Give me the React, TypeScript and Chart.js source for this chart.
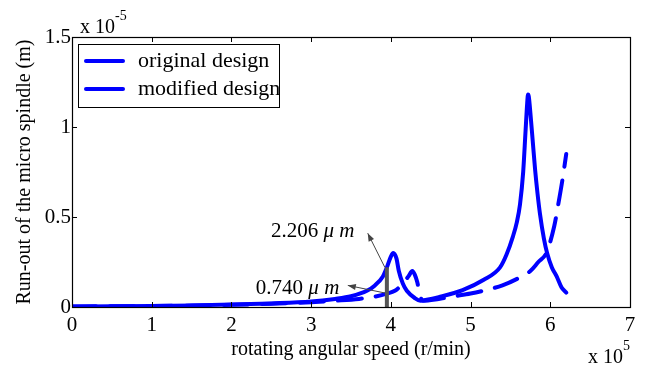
import React, { useEffect, useRef } from "react";
import { Chart, registerables } from "chart.js";
Chart.register(...registerables);

// rotating angular speed (x 10^5 r/min) and run-out (x 10^-5 m)
const xOriginal = [0, 0.5, 1.0, 1.5, 2.0, 2.5, 3.0, 3.3, 3.5, 3.7, 3.8, 3.9, 3.95, 4.0, 4.03, 4.07, 4.1, 4.15, 4.2, 4.3, 4.37, 4.45, 4.6, 4.9, 5.16, 5.37, 5.45, 5.53, 5.58, 5.62, 5.66, 5.69, 5.71, 5.72, 5.73, 5.75, 5.78, 5.81, 5.84, 5.87, 5.92, 5.96, 6.02, 6.08, 6.14, 6.2];
const yOriginal = [0.003, 0.004, 0.006, 0.009, 0.014, 0.02, 0.03, 0.045, 0.06, 0.09, 0.12, 0.17, 0.22, 0.28, 0.3, 0.27, 0.2, 0.13, 0.09, 0.05, 0.035, 0.04, 0.055, 0.094, 0.15, 0.22, 0.29, 0.39, 0.47, 0.57, 0.75, 0.98, 1.13, 1.18, 1.17, 1.08, 0.92, 0.76, 0.63, 0.52, 0.38, 0.3, 0.22, 0.17, 0.11, 0.08];
const xModified = [0, 0.5, 1.0, 1.5, 2.0, 2.5, 3.0, 3.3, 3.6, 3.8, 3.95, 4.05, 4.15, 4.22, 4.27, 4.3, 4.33, 4.37, 4.4, 4.6, 4.8, 5.0, 5.2, 5.4, 5.6, 5.75, 5.85, 5.95, 6.05, 6.1, 6.15, 6.2];
const yModified = [0.003, 0.004, 0.005, 0.008, 0.012, 0.018, 0.027, 0.035, 0.045, 0.058, 0.074, 0.09, 0.13, 0.17, 0.2, 0.18, 0.14, 0.06, 0.035, 0.045, 0.06, 0.075, 0.095, 0.12, 0.16, 0.2, 0.25, 0.3, 0.45, 0.57, 0.7, 0.85];
const seriesLabels = ["original design", "modified design"];
const xTickValues = [0, 1, 2, 3, 4, 5, 6, 7];
const yTickValues = [0, 0.5, 1, 1.5];
const markerSpeed = 3.95;
const markerValues = [2.206, 0.74]; // µm

const SERIF = "'Liberation Serif', 'DejaVu Serif', serif";

const overlay = {
  id: "overlay",
  afterDatasetsDraw(chart: any) {
    const { ctx, chartArea: a, scales } = chart;
    const x = scales.x;
    const y = scales.y;
    ctx.save();

    // marker bar
    const bx = x.getPixelForValue(markerSpeed);
    ctx.strokeStyle = "#555";
    ctx.lineWidth = 4;
    ctx.beginPath();
    ctx.moveTo(bx, y.getPixelForValue(0));
    ctx.lineTo(bx, y.getPixelForValue(markerValues[0] / 10));
    ctx.stroke();

    // arrows
    const arrow = (x0: number, y0: number, x1: number, y1: number) => {
      ctx.strokeStyle = "#444";
      ctx.fillStyle = "#444";
      ctx.lineWidth = 1;
      ctx.beginPath();
      ctx.moveTo(x0, y0);
      ctx.lineTo(x1, y1);
      ctx.stroke();
      const ang = Math.atan2(y1 - y0, x1 - x0);
      const L = 8, W = 3;
      ctx.beginPath();
      ctx.moveTo(x1, y1);
      ctx.lineTo(x1 - L * Math.cos(ang) + W * Math.sin(ang), y1 - L * Math.sin(ang) - W * Math.cos(ang));
      ctx.lineTo(x1 - L * Math.cos(ang) - W * Math.sin(ang), y1 - L * Math.sin(ang) + W * Math.cos(ang));
      ctx.closePath();
      ctx.fill();
    };
    arrow(bx - 2, y.getPixelForValue(0.22), x.getPixelForValue(3.71), y.getPixelForValue(0.41));
    arrow(bx - 2, y.getPixelForValue(0.078), x.getPixelForValue(3.46), y.getPixelForValue(0.12));

    // annotation texts
    const label = (v: number, cx: number, cy: number) => {
      const p1 = v.toFixed(3) + " ";
      ctx.font = `21px ${SERIF}`;
      const w1 = ctx.measureText(p1).width;
      ctx.font = `italic 21px ${SERIF}`;
      const p2 = "\u03bc m";
      const w2 = ctx.measureText(p2).width;
      const sx = x.getPixelForValue(cx) - (w1 + w2) / 2;
      const sy = y.getPixelForValue(cy);
      ctx.fillStyle = "#000";
      ctx.textBaseline = "middle";
      ctx.textAlign = "left";
      ctx.font = `21px ${SERIF}`;
      ctx.fillText(p1, sx, sy);
      ctx.font = `italic 21px ${SERIF}`;
      ctx.fillText(p2, sx + w1, sy);
    };
    label(markerValues[0], 3.02, 0.42);
    label(markerValues[1], 2.83, 0.105);

    // axes box
    ctx.strokeStyle = "#000";
    ctx.lineWidth = 1.2;
    ctx.strokeRect(a.left + 0.5, a.top + 0.5, a.right - a.left, a.bottom - a.top);

    // inward ticks
    const T = 5;
    ctx.beginPath();
    xTickValues.forEach((v) => {
      const px = Math.round(x.getPixelForValue(v)) + 0.5;
      ctx.moveTo(px, a.bottom);
      ctx.lineTo(px, a.bottom - T);
      ctx.moveTo(px, a.top);
      ctx.lineTo(px, a.top + T);
    });
    yTickValues.forEach((v) => {
      const py = Math.round(y.getPixelForValue(v)) + 0.5;
      ctx.moveTo(a.left, py);
      ctx.lineTo(a.left + T, py);
      ctx.moveTo(a.right, py);
      ctx.lineTo(a.right - T, py);
    });
    ctx.lineWidth = 1;
    ctx.stroke();

    // exponent labels
    ctx.fillStyle = "#000";
    ctx.textBaseline = "alphabetic";
    ctx.textAlign = "left";
    ctx.font = `20px ${SERIF}`;
    ctx.fillText("x 10", a.left + 8, a.top - 4);
    let w = ctx.measureText("x 10").width;
    ctx.font = `14px ${SERIF}`;
    ctx.fillText("-5", a.left + 8 + w, a.top - 17);
    ctx.font = `20px ${SERIF}`;
    ctx.fillText("x 10", a.right - 42, a.bottom + 56);
    w = ctx.measureText("x 10").width;
    ctx.font = `14px ${SERIF}`;
    ctx.fillText("5", a.right - 42 + w, a.bottom + 43);

    // legend
    const lx = a.left + 6, ly = a.top + 7, lw = 201, lh = 63;
    ctx.fillStyle = "#fff";
    ctx.fillRect(lx, ly, lw, lh);
    ctx.strokeStyle = "#000";
    ctx.lineWidth = 1;
    ctx.strokeRect(lx + 0.5, ly + 0.5, lw, lh);
    chart.data.datasets.forEach((ds: any, i: number) => {
      const yy = ly + 17 + i * 28;
      ctx.strokeStyle = ds.borderColor;
      ctx.lineWidth = 4;
      ctx.lineCap = "round";
      ctx.setLineDash([]);
      ctx.beginPath();
      ctx.moveTo(lx + 8, yy);
      ctx.lineTo(lx + 45, yy);
      ctx.stroke();
      ctx.fillStyle = "#000";
      ctx.font = `22px ${SERIF}`;
      ctx.textBaseline = "middle";
      ctx.fillText(ds.label, lx + 60, yy);
    });
    ctx.restore();
  },
};

export default function App() {
  const ref = useRef<HTMLCanvasElement | null>(null);
  useEffect(() => {
    if (!ref.current) return;
    const chart = new Chart(ref.current, {
      type: "line",
      data: {
        datasets: [
          {
            label: seriesLabels[0],
            data: xOriginal.map((v, i) => ({ x: v, y: yOriginal[i] })),
            borderColor: "#0000ff",
            borderWidth: 4,
            pointRadius: 0,
            cubicInterpolationMode: "monotone",
            borderCapStyle: "round",
            borderJoinStyle: "round",
            fill: false,
          },
          {
            label: seriesLabels[1],
            data: xModified.map((v, i) => ({ x: v, y: yModified[i] })),
            borderColor: "#0000ff",
            borderWidth: 4,
            borderDash: [24, 14],
            pointRadius: 0,
            cubicInterpolationMode: "monotone",
            borderCapStyle: "round",
            borderJoinStyle: "round",
            fill: false,
          },
        ],
      },
      options: {
        responsive: false,
        animation: false,
        devicePixelRatio: 1,
        layout: { padding: { top: 37, right: 16, left: 0, bottom: 0 } },
        plugins: { legend: { display: false }, tooltip: { enabled: false } },
        scales: {
          x: {
            type: "linear",
            min: 0,
            max: 7,
            afterFit: (s: any) => { s.height = 58; },
            ticks: {
              stepSize: 1,
              padding: 6,
              color: "#000",
              font: { family: SERIF, size: 21 },
              callback: (v: any) => String(v),
            },
            grid: { display: false, drawTicks: false },
            border: { display: false },
            title: {
              display: true,
              text: "rotating angular speed (r/min)",
              color: "#000",
              font: { family: SERIF, size: 20 },
              padding: { top: 0, bottom: 3 },
            },
          },
          y: {
            min: 0,
            max: 1.5,
            afterFit: (s: any) => { s.width = 72; },
            ticks: {
              stepSize: 0.5,
              padding: 1,
              color: "#000",
              font: { family: SERIF, size: 21 },
              callback: (v: any) => String(v),
            },
            grid: { display: false, drawTicks: false },
            border: { display: false },
            title: {
              display: true,
              text: "Run-out of the micro spindle (m)",
              color: "#000",
              font: { family: SERIF, size: 20 },
              padding: { top: 13, bottom: 0 },
            },
          },
        },
      },
      plugins: [overlay],
    });
    return () => chart.destroy();
  }, []);
  return (
    <div style={{ position: "fixed", left: 0, top: 0, width: 646, height: 365, background: "#fff" }}>
      <canvas ref={ref} width={646} height={365} />
    </div>
  );
}
